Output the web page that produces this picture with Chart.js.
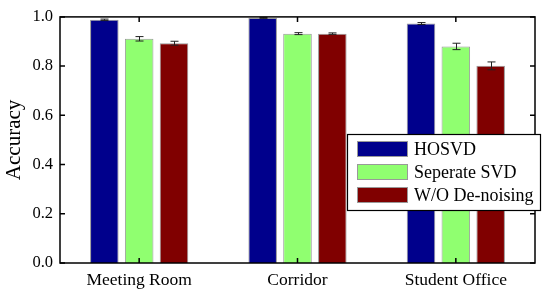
<!DOCTYPE html>
<html>
<head>
<meta charset="utf-8">
<script src="https://cdn.jsdelivr.net/npm/chart.js@4/dist/chart.umd.min.js"></script>
<style>
  html, body { margin: 0; padding: 0; background: #fff; }
  #wrap { width: 550px; height: 293px; }
</style>
</head>
<body>
<div id="wrap"><canvas id="chart" width="550" height="293"></canvas></div>
<script>
const categories = ['Meeting Room', 'Corridor', 'Student Office']
const seriesNames = ['HOSVD', 'Seperate SVD', 'W/O De-noising']
const hosvd = [0.988, 0.996, 0.973]
const separateSvd = [0.911, 0.932, 0.880]
const withoutDenoising = [0.893, 0.932, 0.801]
const hosvdErr = [0.003, 0.002, 0.004]
const separateSvdErr = [0.009, 0.004, 0.013]
const withoutDenoisingErr = [0.008, 0.003, 0.016]
const yTicks = [0, 0.2, 0.4, 0.6, 0.8, 1.0]

const FONT = "'Liberation Serif', 'Times New Roman', serif"
const colors = ['rgb(0, 0, 140)', 'rgb(144, 255, 112)', 'rgb(128, 0, 0)']
const errors = [hosvdErr, separateSvdErr, withoutDenoisingErr]

// frame, inward ticks and error bars
const framePlugin = {
    id: 'frame',
    afterDatasetsDraw(chart) {
        const ctx = chart.ctx
        const {left, right, top, bottom} = chart.chartArea
        const yScale = chart.scales.y
        const xScale = chart.scales.x
        ctx.save()
        // error bars
        ctx.strokeStyle = '#222'
        ctx.lineWidth = 1
        chart.data.datasets.forEach((ds, i) => {
            const meta = chart.getDatasetMeta(i)
            meta.data.forEach((bar, j) => {
                const err = errors[i][j]
                const v = ds.data[j]
                const y1 = yScale.getPixelForValue(v + err)
                const y2 = yScale.getPixelForValue(v - err)
                const x = Math.round(bar.x) + 0.5
                ctx.beginPath()
                ctx.moveTo(x, y1); ctx.lineTo(x, y2)
                ctx.moveTo(x - 4, y1); ctx.lineTo(x + 4, y1)
                ctx.moveTo(x - 4, y2); ctx.lineTo(x + 4, y2)
                ctx.stroke()
            })
        })
        // frame
        ctx.strokeStyle = '#000'
        ctx.lineWidth = 1.5
        ctx.strokeRect(left, top, right - left, bottom - top)
        // ticks
        ctx.beginPath()
        yTicks.forEach(t => {
            const y = yScale.getPixelForValue(t)
            ctx.moveTo(left, y); ctx.lineTo(left + 5, y)
            ctx.moveTo(right, y); ctx.lineTo(right - 5, y)
        })
        categories.forEach((c, j) => {
            const x = xScale.getPixelForValue(j)
            ctx.moveTo(x, top); ctx.lineTo(x, top + 5)
            ctx.moveTo(x, bottom); ctx.lineTo(x, bottom - 5)
        })
        ctx.stroke()
        ctx.restore()
    },
    afterDraw(chart) {
        // legend box
        const ctx = chart.ctx
        const bx = 347, by = 134, bw = 193, bh = 76
        ctx.save()
        ctx.fillStyle = '#fff'
        ctx.fillRect(bx, by, bw, bh)
        ctx.strokeStyle = '#000'
        ctx.lineWidth = 1.2
        ctx.strokeRect(bx + 0.5, by + 0.5, bw, bh)
        ctx.font = `18px ${FONT}`
        ctx.textBaseline = 'middle'
        chart.data.datasets.forEach((ds, i) => {
            const cy = by + 15 + i * 23
            ctx.fillStyle = ds.backgroundColor
            ctx.fillRect(bx + 10, cy - 8, 51, 16)
            ctx.strokeStyle = '#999'
            ctx.lineWidth = 1
            ctx.strokeRect(bx + 10.5, cy - 7.5, 50, 15)
            ctx.fillStyle = '#000'
            ctx.fillText(ds.label, bx + 67, cy + 1)
        })
        ctx.restore()
    }
}

new Chart(document.getElementById('chart').getContext('2d'), {
    type: 'bar',
    data: {
        labels: categories,
        datasets: [hosvd, separateSvd, withoutDenoising].map((values, i) => ({
            label: seriesNames[i],
            data: values,
            backgroundColor: colors[i],
            borderColor: '#999',
            borderWidth: 1,
            categoryPercentage: 0.66,
            barPercentage: 0.82
        }))
    },
    options: {
        responsive: false,
        animation: false,
        layout: {padding: {left: 0, right: 15, top: 13, bottom: 0}},
        plugins: {
            legend: {display: false},
            tooltip: {enabled: false}
        },
        scales: {
            x: {
                grid: {display: false, drawTicks: false},
                border: {display: false},
                ticks: {
                    color: '#000',
                    padding: 7,
                    font: {family: FONT, size: 17.5}
                },
                afterFit: scale => { scale.height = 30 }
            },
            y: {
                min: 0,
                max: 1,
                grid: {display: false, drawTicks: false},
                border: {display: false},
                afterBuildTicks: scale => { scale.ticks = yTicks.map(v => ({value: v})) },
                ticks: {
                    color: '#000',
                    padding: 7,
                    font: {family: FONT, size: 16.5},
                    callback: v => Number(v).toFixed(1)
                },
                title: {
                    display: true,
                    text: 'Accuracy',
                    color: '#000',
                    padding: {top: 2, bottom: 0},
                    font: {family: FONT, size: 21}
                },
                afterFit: scale => { scale.width = 60 }
            }
        }
    },
    plugins: [framePlugin]
})
</script>
</body>
</html>
